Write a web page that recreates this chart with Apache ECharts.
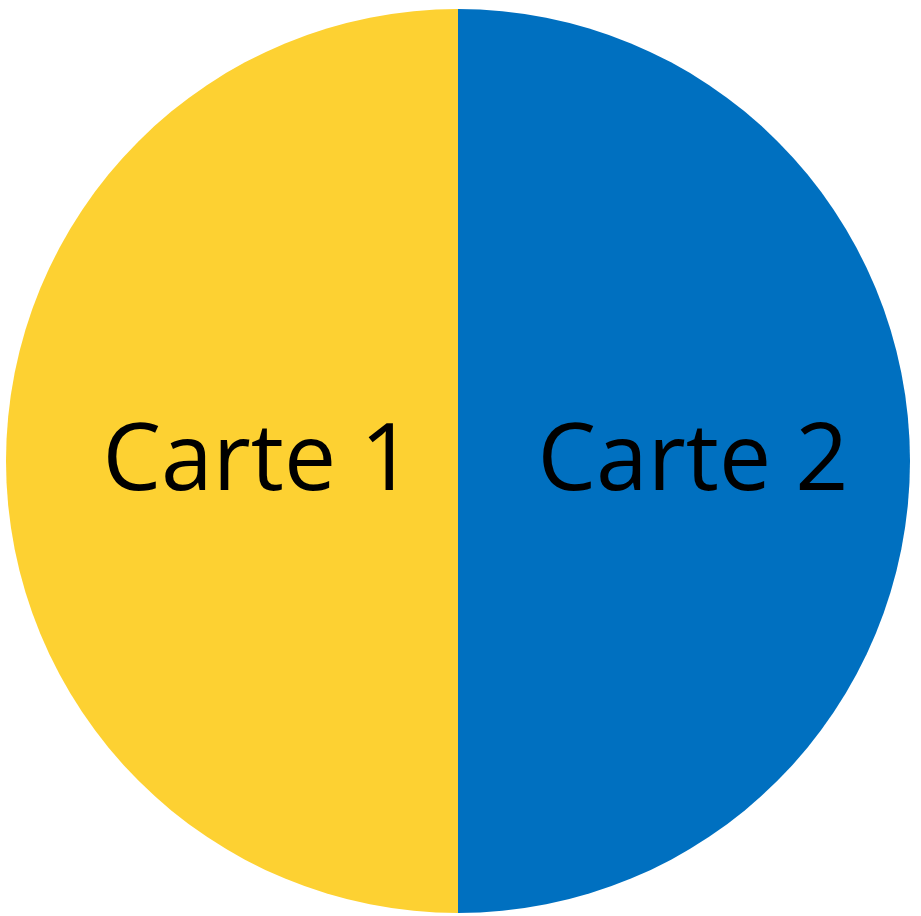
<!DOCTYPE html>
<html>
<head>
<meta charset="utf-8">
<script src="https://cdn.jsdelivr.net/npm/echarts@6/dist/echarts.min.js"></script>
<style>
html,body{margin:0;padding:0;background:#fff;}
#chart{width:921px;height:916px;}
</style>
</head>
<body>
<div id="chart"></div>
<script>
var categories = ['Carte 1', 'Carte 2'];
var values = [50, 50];
var colors = ['#FDD132', '#0070C0'];
var labelOffsets = [[29, 2], [6, 2]];

var chart = echarts.init(document.getElementById('chart'));
chart.setOption({
  animation: false,
  series: [{
    type: 'pie',
    center: [458, 461],
    radius: [0, 452],
    startAngle: 90,
    clockwise: false,
    silent: true,
    label: {
      show: true,
      position: 'inner',
      fontFamily: 'Open Sans',
      fontSize: 93,
      color: '#000',
      formatter: '{b}'
    },
    labelLine: {show: false},
    itemStyle: {borderWidth: 0},
    data: categories.map(function (c, i) {
      return {
        name: c,
        value: values[i],
        itemStyle: {color: colors[i]},
        label: {offset: labelOffsets[i]}
      };
    })
  }]
});
</script>
</body>
</html>
